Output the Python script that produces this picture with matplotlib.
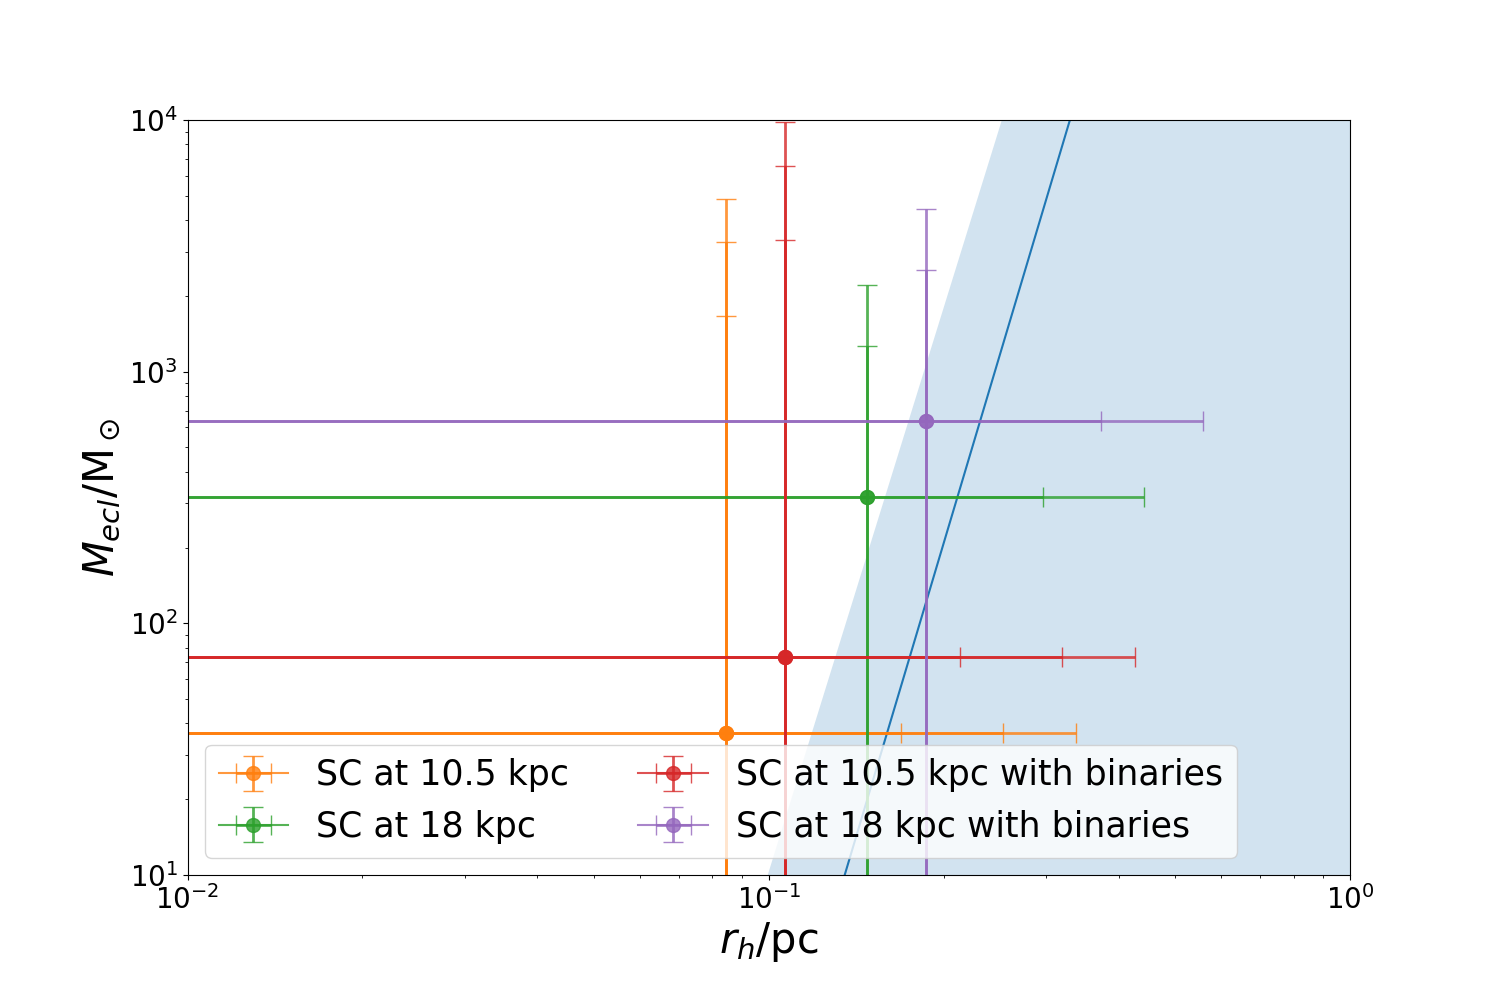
import numpy as np
import matplotlib
matplotlib.use('Agg')
import matplotlib.pyplot as plt

# cluster half-mass radius [pc] and mass [Msun], errors for each level
labels = ['SC at 10.5 kpc', 'SC at 18 kpc',
          'SC at 10.5 kpc with binaries', 'SC at 18 kpc with binaries']
colors = ['C1', 'C2', 'C3', 'C4']
r_h = [0.0843, 0.1475, 0.1066, 0.1863]
m_ecl = [36.7, 317.6, 73.4, 636.8]
r_err = [[0.0843, 0.1686, 0.2533],
         [0.1486, 0.2944],
         [0.1066, 0.2127, 0.320],
         [0.1864, 0.3717]]
m_err = [[1625, 3236, 4816],
         [947, 1890],
         [3263, 6489, 9746],
         [1898, 3789]]

# shaded region boundary and reference line (r at M = 10 and M = 1e4)
line_m = [10, 1e4]
bound_r = [0.0996, 0.2518]
ref_r = [0.1351, 0.3297]

fig = plt.figure(figsize=(15, 10), dpi=100)
ax = fig.add_axes([0.125, 0.125, 0.775, 0.755])

ax.fill_betweenx(line_m, bound_r, [1e3, 1e3], color='C0', alpha=0.2, lw=0)
ax.plot(ref_r, line_m, color='C0', lw=1.5)

for lab, c, x, y, xe, ye in zip(labels, colors, r_h, m_ecl, r_err, m_err):
    for k in range(len(xe)):
        ax.errorbar(x, y, xerr=xe[k], yerr=ye[k], fmt='o-', color=c,
                    ms=10, capsize=7, elinewidth=2, alpha=0.8,
                    label=lab if k == 0 else None)

ax.set_xscale('log')
ax.set_yscale('log')
ax.set_xlim(1e-2, 1)
ax.set_ylim(10, 1e4)
ax.tick_params(labelsize=20)
ax.set_xlabel(r'$r_h$/pc', fontsize=30)
ax.set_ylabel(r'$M_{ecl}/\mathrm{M}_\odot$', fontsize=30)
ax.legend(loc='lower left', ncol=2, fontsize=25)

fig.savefig('out.png')
